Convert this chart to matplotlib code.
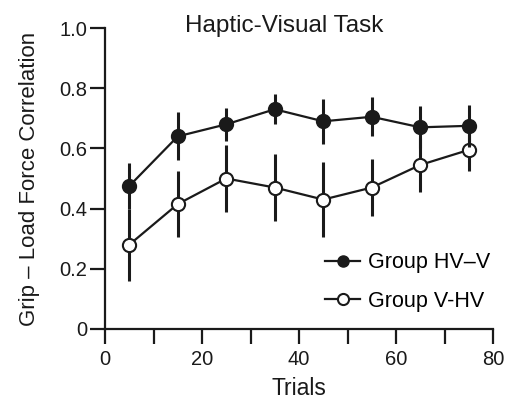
import matplotlib
matplotlib.use("Agg")
import matplotlib.pyplot as plt
from matplotlib.lines import Line2D

plt.rcParams['font.family'] = ['Liberation Sans', 'DejaVu Sans']

trials = [5, 15, 25, 35, 45, 55, 65, 75]
hv_v = [0.475, 0.64, 0.68, 0.73, 0.69, 0.705, 0.67, 0.675]
hv_v_err = [0.075, 0.08, 0.055, 0.05, 0.075, 0.065, 0.07, 0.07]
v_hv = [0.28, 0.415, 0.50, 0.47, 0.43, 0.47, 0.545, 0.595]
v_hv_err = [0.12, 0.11, 0.11, 0.11, 0.125, 0.095, 0.09, 0.07]

xticks = [0, 20, 40, 60, 80]
yticks = [0, 0.2, 0.4, 0.6, 0.8, 1.0]
ytick_labels = ['0', '0.2', '0.4', '0.6', '0.8', '1.0']

C = '#1a1a1a'
fig = plt.figure(figsize=(5.08, 4.0), dpi=100)
ax = fig.add_axes([0.2067, 0.1775, 0.7638, 0.7525])

ax.errorbar(trials, v_hv, yerr=v_hv_err, color=C, lw=1.6, elinewidth=2.2,
            marker='o', ms=9.5, mfc='white', mec=C, mew=1.5, capsize=0, zorder=3)
ax.errorbar(trials, hv_v, yerr=hv_v_err, color=C, lw=1.6, elinewidth=2.2,
            marker='o', ms=9.5, mfc=C, mec=C, mew=1.5, capsize=0, zorder=4)

ax.set_xlim(0, 80)
ax.set_ylim(0, 1.0)
ax.set_xticks(xticks)
ax.set_xticks(range(10, 80, 20), minor=True)
ax.set_yticks(yticks)
ax.set_yticklabels(ytick_labels)
ax.tick_params(axis='x', which='both', direction='out', length=11, width=1.6,
               labelsize=14.5, pad=4, colors=C)
ax.tick_params(axis='y', direction='out', length=11, width=1.6, labelsize=14.5,
               pad=2, colors=C)
for s in ['top', 'right']:
    ax.spines[s].set_visible(False)
for s in ['left', 'bottom']:
    ax.spines[s].set_linewidth(1.6)
    ax.spines[s].set_color(C)

ax.set_xlabel('Trials', fontsize=16.5, color=C, labelpad=6)
ax.set_ylabel('Grip \u2013 Load Force Correlation', fontsize=16, color=C, labelpad=14)
fig.text(284 / 508, 1 - 32 / 400, 'Haptic-Visual Task', fontsize=17.5, color=C,
         ha='center', va='baseline')

handles = [
    Line2D([], [], color=C, lw=1.6, marker='o', ms=8, mfc=C, mec=C),
    Line2D([], [], color=C, lw=1.6, marker='o', ms=8, mfc='white', mec=C, mew=1.5),
]
ax.legend(handles, ['Group HV\u2013V', 'Group V-HV'], loc='center left',
          bbox_to_anchor=(0.567, 0.156), borderaxespad=0, borderpad=0,
          frameon=False, fontsize=15.5, handlelength=1.63,
          handletextpad=0.37, labelspacing=0.8)

fig.savefig('out.png', dpi=100)
